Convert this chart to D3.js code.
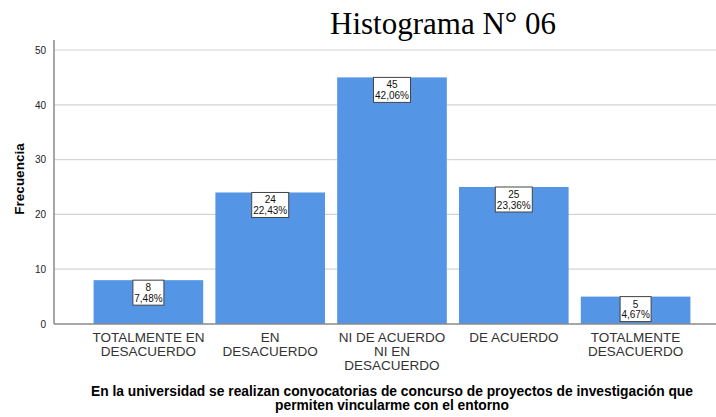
<!DOCTYPE html>
<html>
<head>
<meta charset="utf-8">
<script src="https://cdn.jsdelivr.net/npm/d3@7"></script>
<style>
  body { margin: 0; background: #fff; }
  svg { display: block; }
</style>
</head>
<body>
<div id="chart"></div>
<script>
// chart data
var categories = [
    ["TOTALMENTE EN", "DESACUERDO"],
    ["EN", "DESACUERDO"],
    ["NI DE ACUERDO", "NI EN", "DESACUERDO"],
    ["DE ACUERDO"],
    ["TOTALMENTE", "DESACUERDO"]
];
var counts = [8, 24, 45, 25, 5];
var percents = ["7,48%", "22,43%", "42,06%", "23,36%", "4,67%"];
var yTicks = [0, 10, 20, 30, 40, 50];

var W = 716, H = 417;
var axisX = 54, axisTop = 40, axisBottom = 324;

var svg = d3.select("#chart").append("svg")
    .attr("width", W)
    .attr("height", H);

var x = d3.scaleBand()
    .domain(d3.range(counts.length))
    .range([87.5, 696.5])
    .paddingInner(0.1)
    .paddingOuter(0.05);

var y = d3.scaleLinear()
    .domain([0, 50])
    .range([axisBottom, 50]);

// gridlines
svg.append("g")
    .selectAll("line")
    .data(yTicks.filter(function(d) { return d > 0; }))
    .enter().append("line")
    .attr("x1", axisX)
    .attr("x2", W)
    .attr("y1", function(d) { return y(d); })
    .attr("y2", function(d) { return y(d); })
    .attr("stroke", "#d4d4d4")
    .attr("stroke-width", 1.2);

// bars
svg.append("g")
    .selectAll("rect")
    .data(counts)
    .enter().append("rect")
    .attr("x", function(d, i) { return x(i); })
    .attr("width", x.bandwidth())
    .attr("y", function(d) { return y(d); })
    .attr("height", function(d) { return axisBottom - y(d); })
    .attr("fill", "#5595e5");

// y axis
var yAxis = svg.append("g")
    .attr("transform", "translate(" + axisX + ",0)")
    .call(d3.axisLeft(y).tickValues(yTicks).tickSize(0).tickPadding(8));
yAxis.select(".domain").remove();
yAxis.selectAll("text")
    .style("font-family", "Arial, 'Liberation Sans', sans-serif")
    .style("font-size", "10px")
    .attr("fill", "#222");

svg.append("line")
    .attr("x1", axisX).attr("x2", axisX)
    .attr("y1", axisTop).attr("y2", axisBottom)
    .attr("stroke", "#8a8a8a")
    .attr("stroke-width", 1.5);
svg.append("line")
    .attr("x1", axisX).attr("x2", W)
    .attr("y1", axisBottom).attr("y2", axisBottom)
    .attr("stroke", "#8a8a8a")
    .attr("stroke-width", 1.5);

// category labels
var cat = svg.append("g")
    .selectAll("text")
    .data(categories)
    .enter().append("text")
    .attr("x", function(d, i) { return x(i) + x.bandwidth() / 2; })
    .attr("y", 342)
    .attr("text-anchor", "middle")
    .style("font-family", "Arial, 'Liberation Sans', sans-serif")
    .style("font-size", "13.5px")
    .attr("fill", "#333");
cat.selectAll("tspan")
    .data(function(d) { return d; })
    .enter().append("tspan")
    .attr("x", function() { return d3.select(this.parentNode).attr("x"); })
    .attr("dy", function(d, i) { return i === 0 ? 0 : 14; })
    .text(function(d) { return d; });

// value labels
var lab = svg.append("g")
    .selectAll("g")
    .data(counts)
    .enter().append("g")
    .attr("transform", function(d, i) {
        return "translate(" + (x(i) + x.bandwidth() / 2) + "," + y(d) + ")";
    });
lab.append("rect")
    .attr("x", function(d, i) { return -(percents[i].length * 6 + 1) / 2; })
    .attr("width", function(d, i) { return percents[i].length * 6 + 1; })
    .attr("y", 0)
    .attr("height", 25)
    .attr("fill", "#fff")
    .attr("stroke", "#444")
    .attr("stroke-width", 1);
lab.append("text")
    .attr("y", 11)
    .attr("text-anchor", "middle")
    .style("font-family", "Arial, 'Liberation Sans', sans-serif")
    .style("font-size", "10px")
    .attr("fill", "#111")
    .text(function(d) { return d; });
lab.append("text")
    .attr("y", 21.5)
    .attr("text-anchor", "middle")
    .style("font-family", "Arial, 'Liberation Sans', sans-serif")
    .style("font-size", "10px")
    .attr("fill", "#111")
    .text(function(d, i) { return percents[i]; });

// y axis title
svg.append("text")
    .attr("transform", "translate(24,179) rotate(-90)")
    .attr("text-anchor", "middle")
    .style("font-family", "Arial, 'Liberation Sans', sans-serif")
    .style("font-size", "13.5px")
    .style("font-weight", "bold")
    .text("Frecuencia");

// x axis title
svg.append("text")
    .attr("x", 392)
    .attr("y", 396)
    .attr("text-anchor", "middle")
    .style("font-family", "Arial, 'Liberation Sans', sans-serif")
    .style("font-size", "13.8px")
    .style("font-weight", "bold")
    .text("En la universidad se realizan convocatorias de concurso de proyectos de investigación que");
svg.append("text")
    .attr("x", 392)
    .attr("y", 410)
    .attr("text-anchor", "middle")
    .style("font-family", "Arial, 'Liberation Sans', sans-serif")
    .style("font-size", "13.8px")
    .style("font-weight", "bold")
    .text("permiten vincularme con el entorno");

// chart title
svg.append("text")
    .attr("x", 443)
    .attr("y", 34)
    .attr("text-anchor", "middle")
    .style("font-family", "'Liberation Serif', 'Times New Roman', serif")
    .style("font-size", "31px")
    .attr("fill", "#000")
    .text("Histograma N° 06");
</script>
</body>
</html>
